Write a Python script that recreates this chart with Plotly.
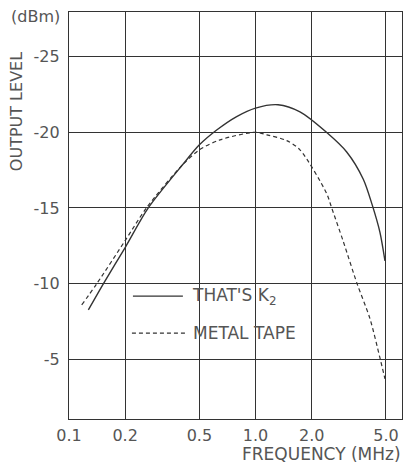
import plotly.graph_objects as go

# Data
k2_freq = [0.127, 0.153, 0.2, 0.266, 0.406, 0.5, 0.619, 0.792, 1.0, 1.32, 1.73, 2.4, 3.08, 3.78, 4.22, 4.64, 4.94]
k2_level = [-8.26, -10.0, -12.38, -15.0, -17.85, -19.17, -20.15, -21.04, -21.6, -21.82, -21.35, -20.0, -18.7, -16.9, -15.2, -13.4, -11.5]

metal_freq = [0.117, 0.141, 0.2, 0.26, 0.406, 0.5, 0.645, 1.0, 1.15, 1.47, 1.73, 2.4, 2.56, 2.95, 3.5, 4.10, 4.64, 4.94]
metal_level = [-8.59, -10.0, -12.84, -15.0, -17.85, -18.84, -19.5, -20.0, -19.83, -19.45, -18.84, -15.98, -15.0, -12.8, -10.0, -7.7, -5.1, -3.7]

x_tickvals = [0.1, 0.2, 0.5, 1.0, 2.0, 5.0]
x_ticktext = ["0.1", "0.2", "0.5", "1.0", "2.0", "5.0"]
y_tickvals = [-5, -10, -15, -20, -25]
y_ticktext = ["-5", "-10", "-15", "-20", "-25"]

line_col = "#333333"
text_col = "#555555"
font_family = "DejaVu Sans"

fig = go.Figure()
fig.add_trace(go.Scatter(x=k2_freq, y=k2_level, mode="lines", name="THAT'S K<sub>2</sub>",
                         line=dict(color=line_col, width=1.4, shape="spline", smoothing=0.8)))
fig.add_trace(go.Scatter(x=metal_freq, y=metal_level, mode="lines", name="METAL TAPE",
                         line=dict(color=line_col, width=1.2, dash="4px,3px", shape="spline", smoothing=0.8)))

fig.update_layout(
    width=404, height=463,
    margin=dict(l=69, r=2, t=12, b=44, autoexpand=False),
    paper_bgcolor="white", plot_bgcolor="white",
    showlegend=False,
    font=dict(family=font_family, size=16, color=text_col),
)
fig.update_xaxes(type="log", range=[-1, 0.785], tickvals=x_tickvals, ticktext=x_ticktext,
                 showgrid=True, gridcolor=line_col, gridwidth=1,
                 showline=True, linecolor=line_col, linewidth=1.2, mirror=True,
                 ticks="", ticklabelstandoff=2, zeroline=False, automargin=False)
fig.update_yaxes(range=[-1.05, -27.95], tickvals=y_tickvals, ticktext=y_ticktext,
                 showgrid=True, gridcolor=line_col, gridwidth=1,
                 showline=True, linecolor=line_col, linewidth=1.2, mirror=True,
                 ticks="", ticklabelstandoff=5, zeroline=False, automargin=False)

# Manual legend
fig.add_shape(type="line", xref="paper", yref="paper", x0=0.192, x1=0.342, y0=0.302, y1=0.302,
              line=dict(color=line_col, width=1.4))
fig.add_shape(type="line", xref="paper", yref="paper", x0=0.189, x1=0.351, y0=0.211, y1=0.211,
              line=dict(color=line_col, width=1.2, dash="4px,3px"))
fig.add_annotation(xref="paper", yref="paper", x=0.363, y=0.302, text="THAT'S K<sub>2</sub>",
                   showarrow=False, xanchor="left", yanchor="middle", font=dict(size=17, color=text_col))
fig.add_annotation(xref="paper", yref="paper", x=0.366, y=0.211, text="METAL TAPE",
                   showarrow=False, xanchor="left", yanchor="middle", font=dict(size=17, color=text_col))

# Axis texts
fig.add_annotation(xref="paper", yref="paper", x=-0.102, y=0.988, text="(dBm)",
                   showarrow=False, xanchor="center", yanchor="middle", font=dict(size=16, color=text_col))
fig.add_annotation(xref="paper", yref="paper", x=-0.159, y=0.754, text="OUTPUT LEVEL", textangle=-90,
                   showarrow=False, xanchor="center", yanchor="middle", font=dict(size=16, color=text_col))
fig.add_annotation(xref="paper", yref="paper", x=1.003, y=-0.087, text="FREQUENCY (MHz)",
                   showarrow=False, xanchor="right", yanchor="middle", font=dict(size=17, color=text_col))

fig.write_html("out.html", config={"displayModeBar": False},
               post_script="document.body.style.margin='0';document.body.style.overflow='hidden';")
